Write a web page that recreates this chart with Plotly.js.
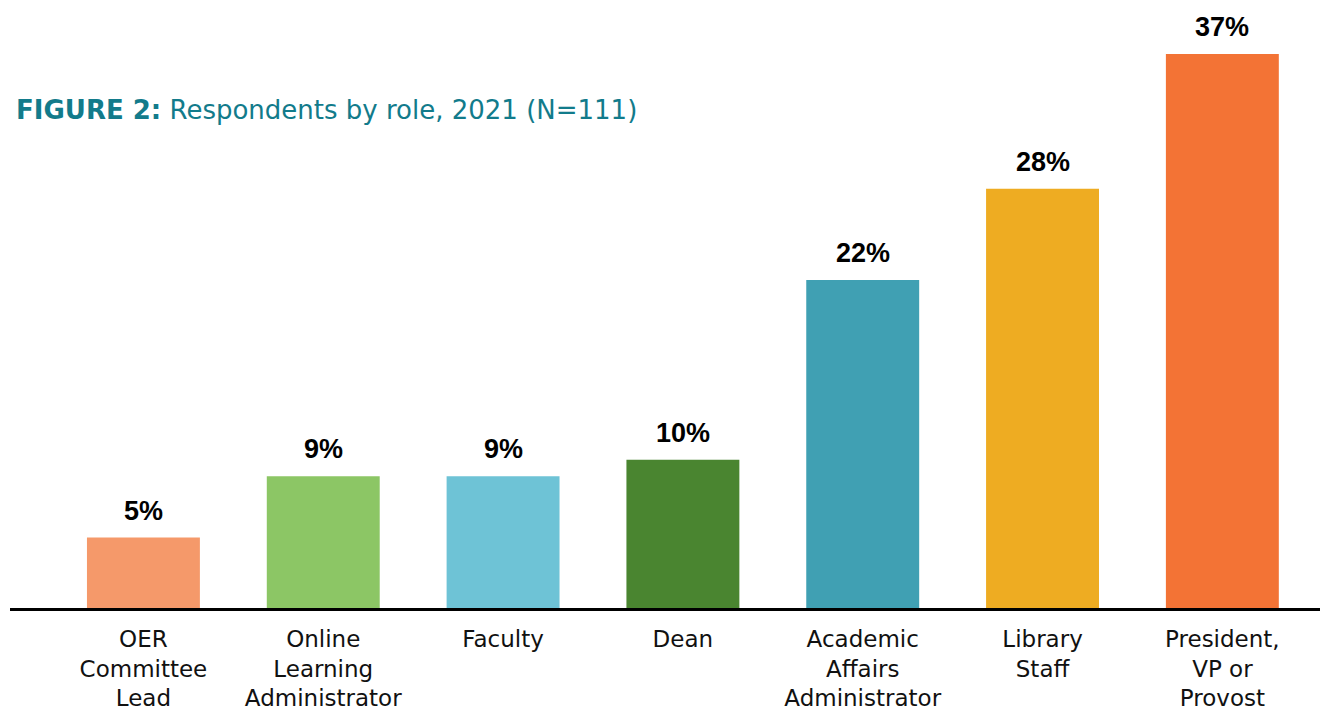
<!DOCTYPE html>
<html>
<head>
<meta charset="utf-8">
<script src="https://cdn.plot.ly/plotly-3.0.1.min.js"></script>
<style>
  html, body { margin: 0; padding: 0; background: #fff; }
  #chart { width: 1320px; height: 714px; }
</style>
</head>
<body>
<div id="chart"></div>
<script>
// roles asked about in the survey (tick labels use <br> for line breaks)
let roles = ["OER<br>Committee<br>Lead", "Online<br>Learning<br>Administrator", "Faculty",
             "Dean", "Academic<br>Affairs<br>Administrator", "Library<br>Staff",
             "President,<br>VP or<br>Provost"];

// share of respondents in each role, percent
let shares = [4.7, 8.8, 8.8, 9.9, 21.9, 28.0, 37.0];

// one colour per bar
let barColors = ["#f5996a", "#8cc665", "#6ec3d6", "#4a8530", "#40a0b3", "#eeac22", "#f37335"];

let trace1 = {
    x: roles,
    y: shares,
    type: "bar",
    marker: { color: barColors },
    hoverinfo: "none"
};

// value labels sit above each bar
let labels = roles.map(function (r, i) {
    return {
        x: r,
        y: shares[i],
        text: "<b>" + Math.round(shares[i]) + "%</b>",
        showarrow: false,
        yanchor: "bottom",
        yshift: 10,
        font: { family: "Liberation Sans, Arial, sans-serif", size: 27, color: "#000" }
    };
});

let layout = {
    width: 1320,
    height: 714,
    margin: { l: 10, r: 0, t: 9, b: 106 },
    paper_bgcolor: "#fff",
    plot_bgcolor: "#fff",
    showlegend: false,
    bargap: 0.372,
    title: {
        text: "<b>FIGURE 2:</b> Respondents by role, 2021 (N=111)",
        font: { family: "DejaVu Sans, sans-serif", size: 26, color: "#127b8b" },
        xref: "container",
        yref: "container",
        x: 16 / 1320,
        xanchor: "left",
        y: 1 - 110 / 714,
        yanchor: "middle"
    },
    xaxis: {
        range: [-0.742, 6.543],
        showline: true,
        linecolor: "#000",
        linewidth: 3,
        ticks: "",
        tickangle: 0,
        ticklabelstandoff: 8,
        tickfont: { family: "DejaVu Sans, sans-serif", size: 23, color: "#111" },
        fixedrange: true
    },
    yaxis: {
        range: [0, 40],
        visible: false,
        showgrid: false,
        zeroline: false,
        fixedrange: true
    },
    annotations: labels
};

Plotly.newPlot("chart", [trace1], layout, { displayModeBar: false, staticPlot: true });
</script>
</body>
</html>
